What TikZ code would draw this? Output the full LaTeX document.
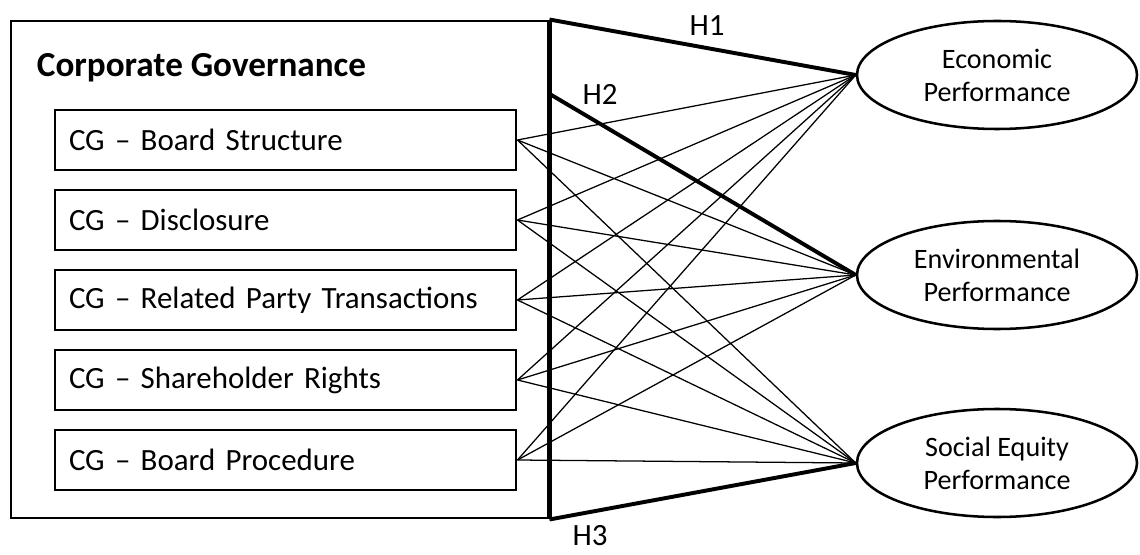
\documentclass[tikz,border=0pt]{standalone}
\usepackage{fontspec}
\setmainfont{Carlito}
\usepackage{tikz}
\usetikzlibrary{positioning,calc,shapes.geometric}

\begin{document}
\begin{tikzpicture}[x=1cm,y=1cm,
      outer/.style={draw=black,line width=2.1pt,minimum width=13.425cm,
        minimum height=12.425cm,inner sep=0pt},
      dim/.style={draw=black,line width=2.1pt,minimum width=11.525cm,
        minimum height=1.5cm,inner xsep=0.35cm,text width=10.825cm,align=left,
        font=\fontsize{22}{24}\selectfont},
      perf/.style={ellipse,draw=black,line width=1.8pt,minimum width=7cm,
        minimum height=2.7cm,inner sep=0pt,align=center,
        font=\fontsize{20}{23.5}\selectfont},
      link/.style={black,line width=0.9pt},
      hyp/.style={black,line width=2.8pt},
      hlab/.style={font=\fontsize{22}{24}\selectfont}
    ]
    \useasboundingbox (0,0) rectangle (28.5,13.85);

    % Le cadre de gauche et ses cinq dimensions.
    \node[outer] (cg) at (6.9875,7.1125) {};
    \node[anchor=west,font=\fontsize{25}{28}\selectfont\bfseries] (title) at (0.8,12.15)
      {Corporate Governance};
    \node[dim] (bs)  at (7.1375,10.35) {CG -- Board Structure};
    \node[dim] (dis) at (7.1375,8.35)  {CG -- Disclosure};
    \node[dim] (rpt) at (7.1375,6.35)  {CG -- Related Party Transactions};
    \node[dim] (sr)  at (7.1375,4.35)  {CG -- Shareholder Rights};
    \node[dim] (bp)  at (7.1375,2.35)  {CG -- Board Procedure};

    \node[perf] (econ) at (24.925,11.975) {Economic\\Performance};
    \node[perf] (env)  at (24.925,6.975)  {Environmental\\Performance};
    \node[perf] (soc)  at (24.925,2.275)  {Social Equity\\Performance};

    \foreach \d in {bs,dis,rpt,sr,bp}{
      \foreach \p in {econ,env,soc}{
        \draw[link] (\d.east) -- (\p.west);
      }
    }

    \draw[black,line width=3.5pt] (cg.north east) -- (cg.south east);
    \coordinate (h2) at (13.7,11.525);
    \draw[hyp] (cg.north east) -- (econ.west);
    \draw[hyp] (h2) -- (env.west);
    \draw[hyp] (cg.south east) -- (soc.west);

    \node[hlab] (h1lab) at (17.675,13.2) {H1};
    \node[hlab] (h2lab) at (15.0,11.5) {H2};
    \node[hlab] (h3lab) at (14.75,0.46) {H3};
  \end{tikzpicture}
\end{document}
